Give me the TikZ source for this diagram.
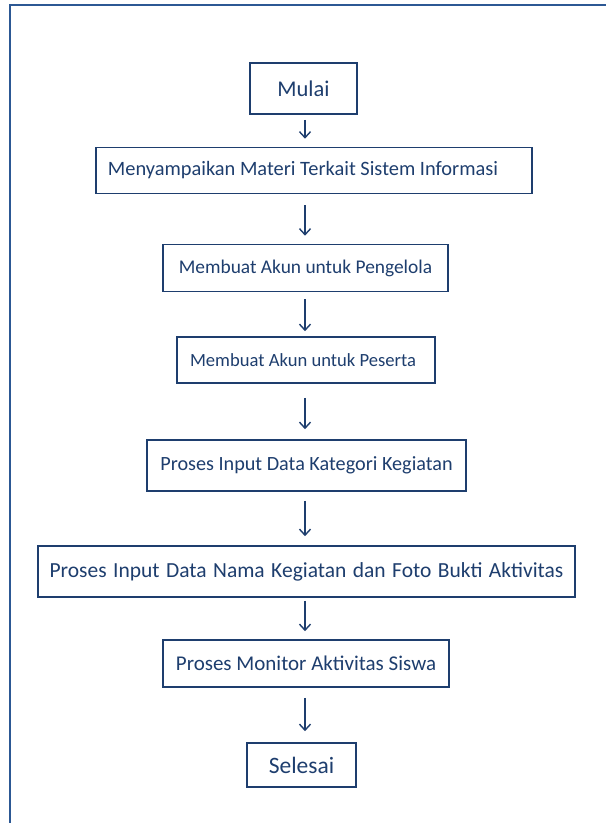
\documentclass[tikz,border=0pt]{standalone}
\usepackage{fontspec}
\setmainfont{Carlito}
\usetikzlibrary{arrows.meta}
\definecolor{ink}{RGB}{30,62,110}
\definecolor{frame}{RGB}{44,88,148}
\tikzset{
  stepbox/.style={draw=ink, line width=1.6pt, text=ink, inner sep=0pt, anchor=center},
  fsz/.style={font=\fontsize{#1}{#1}\selectfont},
  arr/.style={draw=ink, line width=1.4pt, -{Straight Barb[length=6pt,width=11pt,line width=1.4pt]}},
}
\begin{document}
\begin{tikzpicture}[x=1pt,y=-1pt]
\useasboundingbox (0,0) rectangle (606,823);
\fill[white] (0,0) rectangle (606,823);
\draw[frame, line width=2.5pt] (10,823) -- (10,5) -- (606,5);
\coordinate (ax) at (305,0);
\node[stepbox, fsz=22.5, minimum width=107pt, minimum height=51pt] (n1) at (303.5,88.5) {Mulai};
\node[stepbox, fsz=20.4, minimum width=436pt, minimum height=46pt] (n2) at (314,170.5) {Menyampaikan Materi Terkait Sistem Informasi\hspace*{22pt}};
\node[stepbox, fsz=19.4, minimum width=285pt, minimum height=47pt] (n3) at (305.5,268) {Membuat Akun untuk Pengelola};
\node[stepbox, fsz=18.6, minimum width=258pt, minimum height=46pt] (n4) at (306,360) {Membuat Akun untuk Peserta\hspace*{6pt}};
\node[stepbox, fsz=20.2, minimum width=319pt, minimum height=51pt] (n5) at (306.5,465.5) {Proses Input Data Kategori Kegiatan};
\node[stepbox, fsz=21.5, minimum width=537pt, minimum height=51pt] (n6) at (306.5,571.5) {\spaceskip=0.3em Proses Input Data Nama Kegiatan dan Foto Bukti Aktivitas};
\node[stepbox, fsz=21, minimum width=286pt, minimum height=47pt] (n7) at (306,663.5) {Proses Monitor Aktivitas Siswa};
\node[stepbox, fsz=23.5, minimum width=109pt, minimum height=44pt] (n8) at (301.5,765) {Selesai};
\draw[arr, shorten <=5pt, shorten >=8pt] (n1.south -| ax) -- (n2.north -| ax);
\draw[arr, shorten <=11pt, shorten >=8pt] (n2.south -| ax) -- (n3.north -| ax);
\draw[arr, shorten <=7pt, shorten >=5pt] (n3.south -| ax) -- (n4.north -| ax);
\draw[arr, shorten <=14pt, shorten >=10pt] (n4.south -| ax) -- (n5.north -| ax);
\draw[arr, shorten <=9pt, shorten >=9pt] (n5.south -| ax) -- (n6.north -| ax);
\draw[arr, shorten <=3pt, shorten >=8pt] (n6.south -| ax) -- (n7.north -| ax);
\draw[arr, shorten <=10pt, shorten >=11pt] (n7.south -| ax) -- (n8.north -| ax);
\end{tikzpicture}
\end{document}
